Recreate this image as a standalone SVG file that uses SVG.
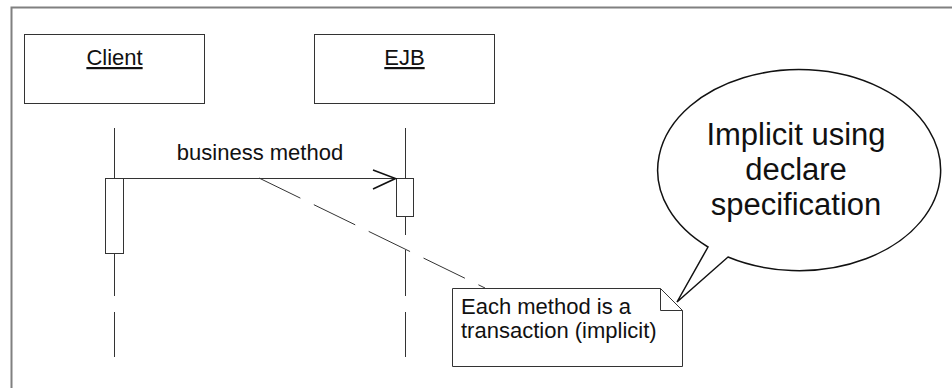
<svg xmlns="http://www.w3.org/2000/svg" width="952" height="388" viewBox="0 0 952 388">
<style>
text{font-family:"Liberation Sans",Arial,sans-serif;fill:#111}
.box{fill:#fff;stroke:#333;stroke-width:1}
.ln{stroke:#333;stroke-width:1;fill:none}
.lbl{font-size:22px}
.big{font-size:31px}
</style>
<rect width="952" height="388" fill="#fff"/>
<g id="frame">
<path d="M11.5 388 V7.5 H952" fill="none" stroke="#808080" stroke-width="2"/>
</g>
<g id="client">
<rect class="box" x="24.5" y="34.5" width="180" height="69"/>
<text class="lbl" x="114.5" y="65" text-anchor="middle" text-decoration="underline">Client</text>
</g>
<g id="ejb">
<rect class="box" x="314.5" y="34.5" width="180" height="69"/>
<text class="lbl" x="404.5" y="65" text-anchor="middle" text-decoration="underline">EJB</text>
</g>
<g id="lifelines">
<path class="ln" d="M114.5 128 V178 M114.5 253 V296 M114.5 312 V357"/>
<path class="ln" d="M405.5 128 V178 M405.5 216 V235 M405.5 250 V296 M405.5 312 V357"/>
<rect class="box" x="105.5" y="178.5" width="18" height="75"/>
<rect class="box" x="396.5" y="178.5" width="17" height="38"/>
</g>
<g id="connectors">
<path class="ln" d="M123.5 178.5 H396"/>
<path d="M373 170 L395.5 178.5 L373 189" fill="none" stroke="#111" stroke-width="1.6"/>
<text class="lbl" x="260" y="160" text-anchor="middle">business method</text>
<path class="ln" d="M259 178 L485 288" stroke-dasharray="46 15"/>
</g>
<g id="note">
<path class="box" d="M452.5 288.5 H660.5 L682.5 310.5 V366.5 H452.5 Z"/>
<path class="ln" d="M660.5 288.5 V310.5 H682.5"/>
<text class="lbl" x="461" y="314">Each method is a</text>
<text class="lbl" x="461" y="338">transaction (implicit)</text>
</g>
<g id="bubble">
<path d="M708 247 L677 302 L728 257 A141.5 100.5 0 1 0 708 247 Z" fill="#fff" stroke="#111" stroke-width="1.5"/>
<text class="big" x="796" y="145" text-anchor="middle">Implicit using</text>
<text class="big" x="796" y="180" text-anchor="middle">declare</text>
<text class="big" x="796" y="215" text-anchor="middle">specification</text>
</g>
</svg>
